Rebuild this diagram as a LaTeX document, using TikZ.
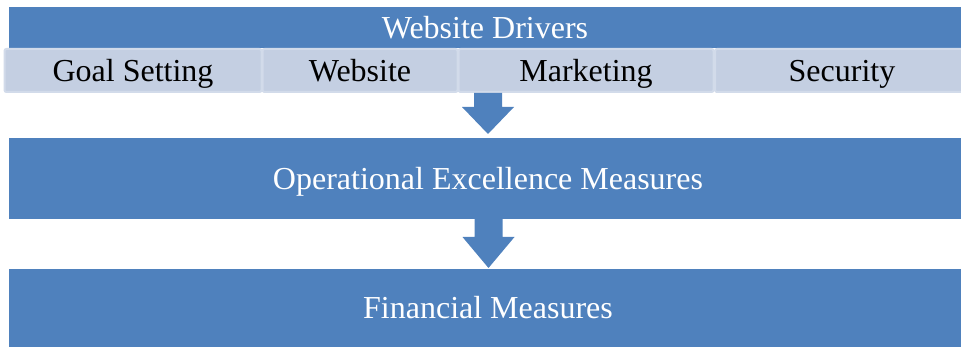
\documentclass[tikz,border=0pt]{standalone}
\usepackage{fontspec}
\setmainfont{Liberation Serif}
\usetikzlibrary{calc}

\definecolor{barblue}{HTML}{4F81BD}
\definecolor{cellfill}{HTML}{C4CFE2}
\definecolor{cellline}{HTML}{D2DBEA}

\begin{document}
\begin{tikzpicture}[x=1pt,y=-1pt,
        bar/.style={rectangle,fill=barblue,text=white,inner sep=0pt,
            minimum width=952pt,text height=25pt,text depth=3pt,
            font=\fontsize{32}{36}\selectfont},
        cell/.style={rectangle,rounded corners=2pt,fill=cellfill,draw=cellline,
            line width=2pt,inner sep=0pt,minimum height=43pt,
            text height=25pt,text depth=3pt,
            font=\fontsize{32}{36}\selectfont}]
    \useasboundingbox (0,0) rectangle (961,347);

    % bars
    \node[bar,minimum height=41pt] (drivers) at (485,27.5) {Website Drivers};
    \node[bar,minimum height=81pt] (ops) at (485,178.5) {\hspace*{6pt}Operational Excellence Measures};
    \node[bar,minimum height=78pt] (fin) at (485,308) {\hspace*{6pt}Financial Measures};

    % driver cells under the top bar
    \node[cell,minimum width=257pt] (goal) at (133,70.5) {Goal Setting};
    \node[cell,minimum width=195pt] (site) at (360,70.5) {Website};
    \node[cell,minimum width=255pt] (mkt) at (586,70.5) {Marketing};
    \node[cell,minimum width=254pt] (sec) at (842,70.5) {Security};

    % block arrows: tail, tip, head length
    \coordinate (t1) at (488,93);
    \coordinate (h1) at (488,134);
    \coordinate (t2) at (488.5,219);
    \coordinate (h2) at (488.5,268);
    \foreach \t/\h/\l in {t1/h1/27,t2/h2/31}
        \fill[barblue] ($(\t)+(-14,0)$) -- ($(\t)+(14,0)$) -- ($(\h)+(14,-\l)$)
            -- ($(\h)+(26,-\l)$) -- (\h) -- ($(\h)+(-26,-\l)$)
            -- ($(\h)+(-14,-\l)$) -- cycle;
\end{tikzpicture}
\end{document}
